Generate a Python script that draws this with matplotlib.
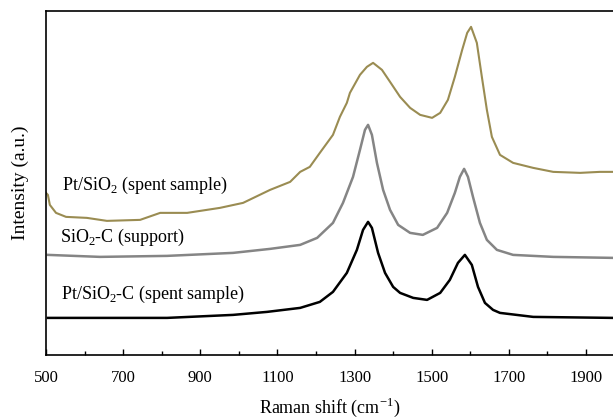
import matplotlib
matplotlib.use("Agg")
import matplotlib.pyplot as plt
from matplotlib.ticker import FixedLocator

plt.rcParams['font.family'] = ['Liberation Serif', 'DejaVu Serif']
plt.rcParams['mathtext.fontset'] = 'custom'
plt.rcParams['mathtext.rm'] = 'Liberation Serif'

# Pt/SiO2 (spent sample)
shift_pt_sio2 = [500, 505, 510, 526, 552, 606, 658, 744, 796, 866, 951, 1011, 1081, 1133,
                 1159, 1184, 1210, 1244, 1262, 1280, 1288, 1314, 1332, 1348, 1371, 1392,
                 1418, 1444, 1470, 1501, 1522, 1542, 1560, 1579, 1592, 1602, 1617, 1630,
                 1643, 1656, 1677, 1711, 1763, 1815, 1885, 1936, 1970]
int_pt_sio2 = [162, 160, 150, 142, 138, 137, 134, 135, 142, 142, 147, 152, 165, 173,
               183, 188, 202, 220, 238, 252, 262, 280, 288, 292, 285, 273,
               258, 247, 240, 237, 242, 255, 278, 305, 322, 328, 312, 278,
               245, 218, 200, 192, 187, 183, 182, 183, 183]

# SiO2-C (support)
shift_sio2_c = [505, 640, 814, 985, 1081, 1159, 1203, 1244, 1270, 1296, 1314, 1327, 1335,
                1345, 1358, 1374, 1392, 1413, 1444, 1477, 1514, 1540, 1560, 1573, 1584,
                1594, 1607, 1625, 1643, 1669, 1711, 1815, 1970]
int_sio2_c = [100, 98, 99, 102, 106, 110, 117, 132, 152, 178, 205, 225, 230,
              220, 192, 165, 145, 130, 122, 120, 127, 142, 162, 178, 186,
              178, 158, 132, 115, 105, 100, 98, 97]

# Pt/SiO2-C (spent sample)
shift_pt_sio2_c = [505, 814, 985, 1073, 1159, 1210, 1244, 1280, 1306, 1322, 1335, 1345,
                   1361, 1379, 1400, 1418, 1452, 1488, 1522, 1547, 1568, 1586, 1604,
                   1620, 1638, 1659, 1677, 1763, 1970]
int_pt_sio2_c = [37, 37, 40, 43, 47, 53, 63, 82, 105, 125, 133, 127,
                 102, 82, 68, 62, 57, 55, 62, 75, 92, 100, 90,
                 68, 52, 45, 42, 38, 37]

major_ticks = [500, 700, 900, 1100, 1300, 1500, 1700, 1900]
minor_ticks = [600, 800, 1000, 1200, 1400, 1600, 1800]
labels = ['Pt/SiO$_2$ (spent sample)', 'SiO$_2$-C (support)', 'Pt/SiO$_2$-C (spent sample)']

fig = plt.figure(figsize=(6.13, 4.2), dpi=100)
ax = fig.add_axes([0.075, 0.155, 0.925, 0.818])

ax.plot(shift_pt_sio2, int_pt_sio2, color='#9a8c52', lw=1.5)
ax.plot(shift_sio2_c, int_sio2_c, color='#858585', lw=1.8)
ax.plot(shift_pt_sio2_c, int_pt_sio2_c, color='black', lw=1.8)

ax.text(541, 169, labels[0], fontsize=13, va='center', ha='left')
ax.text(536, 117, labels[1], fontsize=13, va='center', ha='left')
ax.text(539, 60, labels[2], fontsize=13, va='center', ha='left')

ax.set_xlim(500, 1970)
ax.set_ylim(0, 343.5)
ax.xaxis.set_major_locator(FixedLocator(major_ticks))
ax.xaxis.set_minor_locator(FixedLocator(minor_ticks))
ax.tick_params(axis='x', which='major', direction='in', length=4, width=1, labelsize=12, pad=11)
ax.tick_params(axis='x', which='minor', direction='in', length=3, width=1)
ax.set_yticks([])
ax.spines['right'].set_visible(False)
for s in ['left', 'bottom', 'top']:
    ax.spines[s].set_linewidth(1.2)

ax.set_xlabel('Raman shift (cm$^{\\mathregular{-1}}$)', fontsize=13, labelpad=7)
ax.set_ylabel('Intensity (a.u.)', fontsize=14, labelpad=12)

fig.savefig('out.png', dpi=100)
